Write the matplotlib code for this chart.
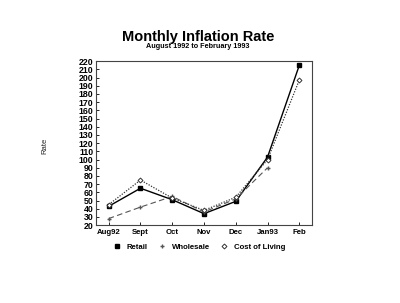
import numpy as np
from matplotlib import pyplot as plt

plt.rcParams['font.family'] = ['Liberation Sans', 'DejaVu Sans']

months = ['Aug92', 'Sept', 'Oct', 'Nov', 'Dec', 'Jan93', 'Feb']
retail = [43, 65, 51, 34, 49, 103, 215]
wholesale = [28, 42, 55, 36, 52, 90, np.nan]
cost_of_living = [45, 75, 53, 38, 54, 100, 197]
yticks = list(range(20, 221, 10))

fig = plt.figure(figsize=(4, 3.03), dpi=100)
ax = fig.add_axes([0.24, 0.257, 0.54, 0.541])

x = np.arange(len(months))
ax.plot(x, retail, color='black', lw=1.0, marker='s', ms=3.5, label='Retail')
ax.plot(x, wholesale, color='#555555', lw=0.8, ls=(0, (5, 3)), marker='+', ms=3,
        label='Wholesale')
ax.plot(x, cost_of_living, color='#333333', lw=0.9, ls=(0, (1, 1.2)), marker='D', ms=2.5,
        mfc='white', mec='#333333', mew=0.7, label='Cost of Living')

ax.set_xlim(-0.4, 6.4)
ax.set_ylim(20, 220)
ax.set_xticks(x)
ax.set_xticklabels(months, fontsize=5.6, fontweight='bold')
ax.set_yticks(yticks)
ax.set_yticklabels([str(v) for v in yticks], fontsize=6.3, fontweight='bold')
ax.tick_params(axis='x', direction='in', length=2.5, width=0.6, pad=3)
ax.tick_params(axis='y', direction='in', length=2.5, width=0.6, pad=2)
for s in ax.spines.values():
    s.set_linewidth(0.8)
    s.set_color('#444444')

fig.text(0.1125, 0.52, 'Rate', rotation=90, fontsize=5.5, ha='center', va='center',
         color='#222222')

fig.text(0.495, 0.878, 'Monthly Inflation Rate', fontsize=10.5, fontweight='bold',
         ha='center', va='center')
fig.text(0.495, 0.845, 'August 1992 to February 1993', fontsize=5.2, fontweight='bold',
         ha='center', va='center')

leg = fig.legend(*ax.get_legend_handles_labels(), loc='center',
                 bbox_to_anchor=(0.5, 0.185), ncol=3, frameon=False,
                 prop={'weight': 'bold', 'size': 5.6}, handlelength=0.5,
                 handletextpad=1.0, columnspacing=1.6)
for h in leg.legend_handles:
    h.set_linestyle('none')

fig.savefig('out.png', dpi=100, facecolor='white')
